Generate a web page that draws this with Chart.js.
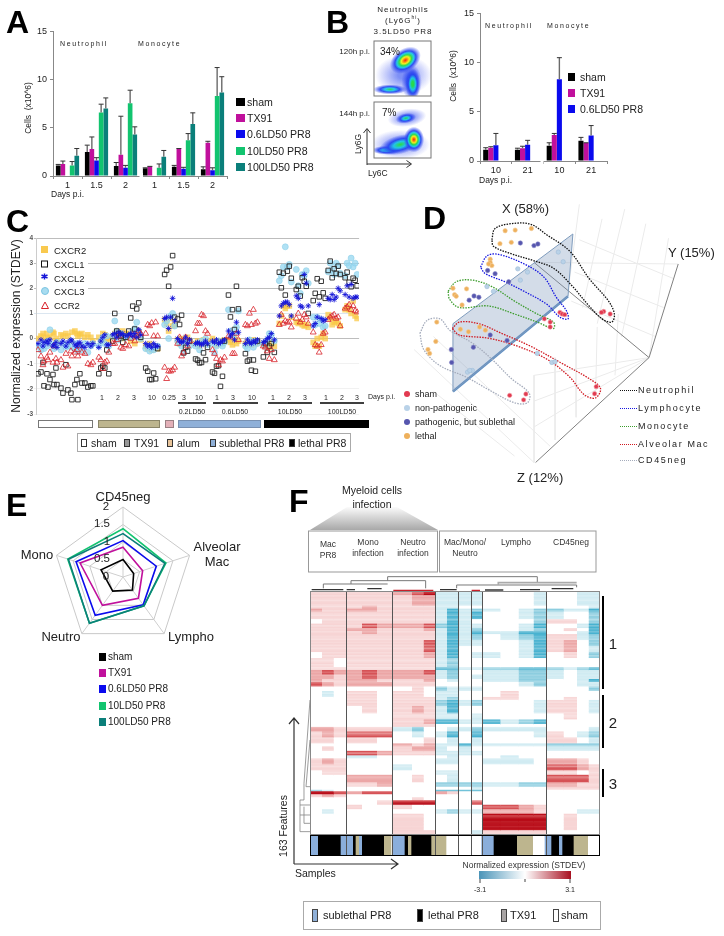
<!DOCTYPE html>
<html>
<head>
<meta charset="utf-8">
<script src="https://cdn.jsdelivr.net/npm/chart.js@4"></script>
<style>
  html, body { margin: 0; padding: 0; background: #fff; }
  #page { position: relative; width: 724px; height: 936px; overflow: hidden; font-family: "Liberation Sans", Arial, sans-serif; }
  #page canvas { position: absolute; }
  #page svg { position: absolute; left: 0; top: 0; }
  .t { position: absolute; white-space: pre; line-height: 1; color: #222; z-index: 2; }
  .box { position: absolute; box-sizing: border-box; }
</style>
</head>
<body>
<div id="page"></div>
<script>
// panel A
const aDays = ["1", "1.5", "2", "1", "1.5", "2"];
const aSeries = ["sham", "TX91", "0.6LD50 PR8", "10LD50 PR8", "100LD50 PR8"];
const aColors = ["#000000", "#c0109c", "#0a0aee", "#12c46f", "#0b7f7a"];
const aSham = [1.1, 2.5, 1.05, 0.8, 0.95, 0.7];
const aTx91 = [1.25, 2.8, 2.2, 1.0, 2.85, 3.45];
const aLow = [0, 1.6, 0.85, 0, 0.75, 0.6];
const aMid = [1.1, 6.6, 7.55, 0.85, 3.7, 8.3];
const aHigh = [2.1, 7.0, 4.3, 2.0, 5.4, 8.65];
const aShamTop = [1.2, 3.2, 1.4, 0.85, 1.1, 0.95];
const aTx91Top = [1.55, 4.05, 6.2, 1.0, 2.85, 3.6];
const aLowTop = [0, 1.9, 1.1, 0, 0.9, 0.85];
const aMidTop = [1.5, 7.45, 8.9, 1.25, 4.4, 11.25];
const aHighTop = [2.85, 8.1, 5.1, 2.65, 6.55, 10.3];

// panel B
const bDays = ["10", "21", "10", "21"];
const bSham = [1.15, 1.15, 1.55, 2.05];
const bTx91 = [1.35, 1.3, 2.65, 1.85];
const bLow = [1.6, 1.65, 8.3, 2.6];
const bShamTop = [1.35, 1.3, 1.85, 2.4];
const bTx91Top = [1.45, 1.5, 2.8, 1.85];
const bLowTop = [2.8, 2.1, 10.5, 3.6];

// flow plots of panel B: density blobs, box units 0-100, y upward
const flowTopX = [52, 66, 28, 68, 55];
const flowTopY = [38, 25, 12, 22, 65];
const flowTopRx = [50, 18, 30, 13, 30];
const flowTopRy = [36, 32, 9, 28, 21];
const flowTopAngle = [0, 0, 0, 0, -35];
const flowTopPeak = [0.2, 0.33, 0.5, 0.62, 1];
const flowBotX = [46, 58, 56, 22, 46, 70];
const flowBotY = [24, 72, 71, 14, 24, 33];
const flowBotRx = [52, 34, 18, 26, 38, 18];
const flowBotRy = [26, 16, 9, 8, 17, 23];
const flowBotAngle = [0, -8, -10, 0, -15, 0];
const flowBotPeak = [0.2, 0.24, 0.5, 0.48, 0.52, 1];

// panel C, one value per sample
const cGenes = ["CXCR2", "CXCL1", "CXCL2", "CXCL3", "CCR2"];
const cSamplePos = [
  38,41,43,44,47,48,50,53,54,56,57,61,63,66,68,71,72,75,77,78,80,82,85,88,91,93,
  99,101,103,105,107,109,
  113,115,117,119,121,123,126,
  129,131,133,135,137,139,141,
  146,148,150,152,154,156,158,
  165,167,169,171,173,175,
  178,180,182,184,186,188,190,
  196,198,200,202,204,206,208,
  213,215,217,219,221,223,225,
  229,231,233,235,237,239,
  246,248,250,252,254,256,258,
  264,266,268,270,272,275,
  280,282,284,286,288,290,292,
  297,299,301,303,305,307,309,
  314,316,318,320,322,324,326,
  329,331,333,335,337,339,341,
  346,348,350,352,354,356,358
];
const cCxcr2 = [
  0,.1,.2,.05,.2,0,.05,.25,.2,0,-.1,.15,.1,.2,.1,-.1,.25,.3,.2,.1,.15,.2,.05,.15,.05,-.1,
  .05,-.1,.2,.15,-.05,0,
  .1,.2,.3,.1,0,.3,.2,
  .2,-.1,.05,-.2,.1,.25,-.05,
  -.3,-.4,-.2,-.45,-.35,-.3,-.4,
  .75,.6,.3,.8,.5,.55,
  -.05,-.2,0,-.1,-.2,.05,-.15,
  -.2,-.1,-.3,-.15,-.05,-.2,-.1,
  0,-.1,-.25,-.15,-.1,-.2,-.05,
  -.05,-.15,-.25,0,-.2,-.1,
  -.2,-.15,-.1,-.25,-.05,-.2,-.15,
  -.2,-.3,-.1,-.35,-.15,-.3,
  .6,.9,1.3,1.2,1.3,1.3,.85,
  .65,.6,.65,.55,.5,.55,.45,
  -.15,-.3,0,-.3,.05,.2,0,
  .95,.8,.55,.65,.7,.6,.5,
  1.15,1.3,1.15,1,1.5,.9,.8
];
const cCxcl1 = [
  -1.4,-1.33,-.95,-1.88,-1.4,-1.93,-1.63,-1.43,-1.83,-1.17,-1.83,-1.97,-2.17,-1.04,-2.04,-2.17,-2.43,-1.83,-1.63,-2.43,-1.4,-1.77,-1.77,-1.93,-1.88,-1.88,
  -1.4,-1.17,-1.1,-1.17,-.45,-1.4,
  -.1,1,.3,.2,.1,-.15,.05,
  .3,.82,1.29,.38,1.18,1.42,.05,
  -1.17,-1.3,-1.63,-1.63,-1.37,-1.6,-.4,
  2.55,2.72,2.08,2.85,3.3,.85,
  .78,.56,.93,-.57,-.35,-.5,-.1,
  -.81,-.86,-.97,-.95,-.57,-.84,-.35,
  -1.33,-1.38,-1.1,-1.08,-1.9,-1.5,-.1,
  1.73,.86,1.15,.36,2.08,1.18,
  -.6,-.9,-.85,-1.26,-.85,-1.3,-.1,
  -.73,-.2,-.55,-.3,-.2,-.55,
  2.64,2.02,2.6,1.73,2.68,2.88,2.4,
  1.95,2.08,1.69,2.42,2.28,2.08,1,
  1.51,1.8,2.38,1.66,2.28,1.82,1.6,
  2.71,3.08,2.42,2.78,2.59,2.88,2.55,
  2.42,2.64,2.24,2.06,2.4,2.32,2.1
];
const cCxcl2 = [
  -.2,-.05,-.3,-.15,-.1,-.2,-.05,-.3,-.25,-.15,-.35,-.2,-.1,-.3,-.15,-.05,-.1,-.25,-.3,-.2,-.15,-.3,-.35,-.2,-.3,-.2,
  -.35,-.1,.05,.15,-.25,-.25,
  .15,.2,.05,.25,.15,.2,.1,
  .15,.2,.1,.2,.05,.35,.15,
  -.2,-.3,-.25,-.35,-.2,-.3,-.3,
  .8,.85,.4,.85,1.6,.7,
  0,-.1,-.15,-.1,.05,-.2,-.05,
  -.2,-.15,-.2,-.25,-.2,-.1,-.2,
  -.1,-.15,-.05,-.2,-.15,-.1,-.05,
  .3,.1,.2,-.05,.65,.25,
  -.2,-.05,-.15,-.2,-.1,-.15,-.05,
  -.15,-.1,0,.05,.2,-.05,
  .9,1.3,1.4,1.45,1.45,1.35,.9,
  1.7,1.6,1.3,1.25,2.55,2.2,1.3,
  .5,.6,.85,1.35,.8,.7,.75,
  1.6,1.55,1.75,1.55,1.65,2,1.9,
  1.75,2.1,1.65,2.15,1.6,1.65,1.65
];
const cCxcl3 = [
  -.3,-.45,-.2,-.4,-.3,-.1,.35,-.25,-.4,-.3,-.15,-.45,-.2,-.35,-.3,-.1,-.35,-.4,-.2,-.5,-.3,-.45,-.2,-.55,-.3,-.2,
  -.3,-.1,.05,-.2,.1,-.3,
  .1,.7,.3,-.05,.2,.1,.05,
  .1,.05,.3,.4,.65,.3,0,
  -.4,-.3,-.5,-.4,-.45,-.35,-.3,
  .55,.7,0,.9,1,.5,
  -.1,-.2,-.3,-.55,-.2,-.1,-.3,
  -.3,-.2,-.45,-.1,-.2,0,-.25,
  -.2,-.55,-.3,-.1,-.2,-.3,-.15,
  1.15,.3,.1,.2,.45,1.1,
  -.3,-.4,-.05,-.2,-.35,-.1,-.2,
  -.2,-.3,-.05,.2,.15,-.1,
  2.3,2.5,2.85,3.65,2.85,2.95,2.25,
  2.75,2.1,1.8,2.55,2.5,2.7,2.2,
  .85,.55,.85,.6,.75,.45,.5,
  2.65,3,2.75,2.55,3,2.9,2.6,
  2.5,3,2.9,3.2,2.85,3,2.55
];
const cCcr2 = [
  -.45,-.7,-1.05,-.9,-.75,-.85,-.55,-.95,-.3,-.8,-.95,-.85,-1.15,-.6,-1.1,-.5,-.7,-.55,-.45,-.7,-.3,-.55,-.6,-1,-1.05,-.95,
  -.75,-.85,-1.2,-.95,-.9,-.55,
  -.2,-.2,-.05,.1,-.35,-.4,-.25,
  -.3,0,.15,-.1,.1,.3,.2,
  .2,.55,.5,.62,.1,.65,.1,
  -1.15,-1.6,-1.3,-1.3,-1.25,-1.15,
  -.2,.05,-.7,-.55,.05,-.3,-.1,
  .3,.6,.6,.95,.9,.3,.2,
  -.45,-.6,-.8,-1.05,-.85,-.9,-.75,
  .1,.05,-.6,-.6,.2,-.05,
  .55,.5,1,.55,1.15,.6,.65,
  -.3,-.35,-.5,-.8,-.45,-.85,
  .55,.95,.6,.7,.65,.65,.45,
  .8,1,.65,.75,.95,.85,.6,
  .25,-.25,-.3,-.55,-.25,.2,.25,
  .75,.85,.9,.95,.8,.85,.5,
  1.2,1.25,1.35,1.15,1.3,1.1,1.05
];
const cTicks = [-3, -2, -1, 0, 1, 2, 3, 4];

const dShamX = [645,665,638,510,517,525,462,480,480,622,617,405,398,355];
const dShamY = [362,370,365,365,370,372,385,395,410,595,617,618,636,622];
const dNonPathX = [505,520,380,410,388,285,305,440,485,495,225,240,232];
const dNonPathY = [178,208,230,240,265,285,300,492,520,518,550,545,545];
const dPathX = [388,430,442,287,310,352,230,245,260,295,347,243,175,176];
const dPathY = [150,158,153,235,245,270,327,314,318,435,452,473,480,520];
const dLethalX = [341,372,422,325,360,295,295,300,290,180,222,185,190,208,203,228,262,280,130,127,103,108];
const dLethalY = [112,110,105,152,148,200,210,220,215,290,292,310,315,342,417,425,410,420,395,455,480,492];
const dOutlineNeutro = [[300,140],[310,105],[360,90],[420,92],[470,125],[540,175],[600,260],[660,330],[678,370],[670,395],[640,385],[600,345],[545,280],[490,228],[430,205],[350,180],[305,160],[300,140]];
const dOutlineLympho = [[265,225],[285,190],[320,185],[400,215],[460,255],[500,320],[530,360],[535,385],[510,380],[470,340],[400,300],[340,270],[280,245],[265,225]];
const dOutlineMono = [[165,300],[190,270],[240,265],[300,285],[370,330],[440,370],[490,395],[490,415],[440,395],[370,370],[290,345],[200,350],[170,325],[165,300]];
const dOutlineMac = [[178,415],[200,395],[260,400],[330,430],[420,470],[520,525],[600,570],[635,600],[620,630],[585,620],[540,565],[470,510],[380,470],[290,445],[200,435],[178,415]];
const dOutlineCd45 = [[78,430],[100,390],[140,385],[170,420],[240,460],[300,510],[360,570],[415,615],[410,645],[370,645],[300,610],[220,565],[140,530],[90,480],[78,430]];
const dPlane = [[180,610],[180,400],[550,122],[535,315],[180,610]];
const dWalls = [
  [[570,30],[535,300]],[[710,45],[625,400]],[[845,135],[785,505]],[[640,75],[580,350]],[[775,90],[700,440]],
  [[430,560],[430,830]],[[560,450],[560,690]],[[690,370],[680,560]],[[625,410],[620,625]],[[495,505],[495,760]],
  [[430,560],[785,505]],[[430,640],[785,505]],[[430,720],[785,505]],[[60,480],[430,830]],[[120,440],[480,780]],
  [[430,210],[875,215]],[[570,140],[860,260]],[[555,240],[830,350]],[[545,330],[805,440]],[[370,810],[120,610]]
];
const dAxes = [[[875,215],[785,505]],[[785,505],[435,830]],[[430,210],[785,505]]];

// panel E
const eAxes = ["CD45neg", "Alveolar Mac", "Lympho", "Neutro", "Mono"];
const eSham = [0.5, 0.32, 0.46, 0.5, 0.66];
const eTx91 = [0.85, 0.59, 0.75, 1.0, 1.29];
const eLow = [1.04, 1.0, 0.98, 1.35, 1.41];
const eMid = [1.38, 1.29, 1.02, 1.63, 1.66];
const eHigh = [1.24, 1.26, 1.02, 1.63, 1.64];

// panel F: widths of the sample blocks, features per row band, levels from -3 to 4
const fColWidths = [35,35,37, 48,45,47, 58,35,35, 35,35, 37, 33, 55,55,45,37, 53,40,35,35];
const fRowSpans = [3,7,2,2,5,3,3,2,2,4,4,4,4,6,2,3,3,2,3,3,4,2, 4,5,4,3,2,3,4,4,2,3,3,2,4,4,3,5,3,2,1,2,2,2,3,3,3,11,3];
const fLevels = [
  [1,1,1, 1,1,1, 2,3,4, -1,-1, -1, -1, 0,0,0,-1, 0,0,-1,-1],
  [1,1,1, 1,1,1, 1,2,2, -1,-1, -1, -1, 0,0,0,-1, 0,0,-1,-1],
  [1,1,1, 1,2,1, 1,1,1, -1,-1, 0, 0, 0,0,0,0, 0,0,0,-1],
  [2,1,1, 2,2,1, 1,1,1, -1,-3, -1, -2, -1,0,-1,-2, -2,-1,-1,-3],
  [1,1,1, 1,1,1, 1,1,1, -1,-3, -1, -3, 0,0,-1,-2, -1,0,0,-2],
  [0,1,1, 1,1,1, 1,1,1, -1,-3, -1, 0, 0,0,0,-2, 1,1,0,-2],
  [1,1,1, 1,3,2, 2,2,3, -2,-3, -1, -1, 0,0,-1,-3, 0,0,-1,-3],
  [1,1,1, 2,2,1, 1,1,2, -1,-3, -1, -2, 0,0,-1,-2, 0,1,0,-3],
  [1,1,1, 1,2,1, 1,1,1, -1,-3, -1, -3, -1,-1,-3,-3, 0,0,-1,-3],
  [1,1,1, 1,1,1, 1,1,1, -1,-3, -1, -2, 0,-1,-2,-3, 1,1,-1,-2],
  [1,1,1, 1,1,1, 1,1,3, -1,-3, -1, -1, 0,0,-1,-3, 1,2,0,-2],
  [1,1,1, 1,1,1, 1,1,3, -1,-3, 0, 0, 0,0,-1,-3, 1,2,0,-1],
  [0,1,1, 1,1,1, 1,1,2, -1,-3, 0, -1, -1,0,-1,-3, 0,1,0,-2],
  [1,1,0, 1,1,1, 1,1,1, -1,-2, 0, 0, 0,0,0,0, 0,0,0,0],
  [1,1,1, 1,1,1, 1,1,1, -3,-3, -1, -1, -2,-2,-3,-3, -2,-1,-2,-3],
  [2,3,2, 2,3,2, 2,2,3, -1,-2, 0, 0, -1,-1,-2,-2, -1,0,-1,-1],
  [2,2,1, 2,3,2, 2,2,2, -1,-2, 0, -1, -1,-1,-2,-2, -1,0,-1,-1],
  [2,1,1, 2,2,1, 1,1,2, 0,-1, 0, 0, -1,-1,-2,-2, 0,0,-1,-3],
  [3,2,1, 2,2,2, 1,1,1, 0,0, 0, 0, 0,0,-1,-2, 0,0,-1,-1],
  [0,0,0, 0,0,0, 0,1,0, -2,-1, -1, -1, 0,0,0,0, 0,0,0,-2],
  [0,-1,0, 1,1,0, 1,1,0, -1,-1, 0, 0, 0,1,0,0, 0,0,0,0],
  [0,0,0, 1,1,0, 1,1,1, -1,-2, 0, 0, 1,1,0,0, 0,1,0,0],
  [0,0,0, 1,1,0, 1,1,1, -2,-3, -1, -2, 0,0,0,-1, 1,1,0,-1],
  [0,0,0, 0,1,0, 1,2,1, -1,-3, 0, 0, 0,0,0,-1, 1,1,0,-1],
  [0,0,0, 0,0,0, 1,1,1, -1,-1, 0, -1, 0,0,0,0, 0,1,0,0],
  [0,0,0, 0,0,0, 1,1,2, -3,-3, -1, -1, -3,-1,-2,-3, 0,0,0,0],
  [0,0,0, 0,0,0, 1,1,1, 0,0, 0, 0, 0,0,0,0, 0,0,0,0],
  [2,2,1, 1,1,1, -1,-2,0, 0,-1, -1, -2, -1,-1,-1,-1, 0,0,0,-1],
  [1,2,1, 3,3,3, 0,-1,0, -1,-3, 0, -3, 0,0,0,-1, 1,0,-1,-2],
  [1,1,0, 1,1,0, 0,0,1, 0,-1, 0, -1, 0,0,0,0, 1,1,0,-1],
  [0,0,0, 0,0,0, 2,1,2, -1,-1, -3, -1, -1,-1,-1,-1, -2,-2,-2,-2],
  [0,1,0, 0,0,0, 1,2,2, -1,0, -1, 0, 0,0,0,0, -1,-1,-1,-1],
  [0,0,0, 3,3,2, 1,1,1, -1,-1, -1, -1, 0,0,0,0, 0,0,0,0],
  [0,0,0, -1,-1,0, 0,0,0, 0,-1, 0, 0, 0,-1,0,0, 0,0,0,0],
  [1,2,1, 0,0,0, 0,0,0, -1,-1, 0, 0, -1,-1,-1,0, 2,2,1,0],
  [1,1,1, 0,0,0, -1,0,0, 0,0, 0, 0, 0,0,0,0, 3,3,2,1],
  [0,1,1, 0,0,0, 0,0,0, -1,-1, 0, 0, 0,0,0,0, 1,1,0,1],
  [0,0,0, 2,2,2, 0,1,0, 0,-1, 0, 0, 0,0,0,0, 3,3,3,1],
  [0,0,0, 1,1,2, 0,0,0, -2,-2, -2, -2, -1,-1,-2,-2, 2,2,1,1],
  [0,0,0, 0,0,0, 0,0,0, 0,0, 0, -1, 0,0,0,0, 1,1,1,1],
  [-2,-1,0, 0,0,0, 0,0,0, -3,-3, -3, -3, 0,0,0,0, 0,0,0,0],
  [4,4,3, 2,3,3, 0,0,0, 2,1, 0, 0, 0,0,0,0, 0,0,0,0],
  [1,2,1, 0,0,0, 0,0,0, 0,0, 0, 0, 0,0,0,0, 0,0,0,0],
  [0,0,0, 0,0,0, 0,1,0, 0,0, 0, 0, 0,0,0,0, 0,0,0,0],
  [0,0,0, 0,0,1, 4,4,4, 0,0, 0, 3, 0,0,0,0, 0,0,0,0],
  [0,0,0, 1,0,0, 1,0,0, 0,0, 0, 0, 3,3,2,1, 0,0,0,0],
  [0,-1,0, 0,0,0, 0,0,0, -1,-2, -1, -1, 2,2,2,1, 0,0,-1,-1],
  [0,0,0, 0,0,0, 1,1,0, 0,0, 0, 0, 4,4,4,4, 0,1,0,0],
  [0,0,0, 0,0,0, 1,1,1, 0,0, 0, -1, 1,1,1,1, 0,0,0,0]
];
// contrast of each of the 163 features against its band, gives the fine stripes
const fRowContrast = [
  1,.85,1, .8,1,.9,.75,.95,1,.85,.7,.95,
  1,.8, 1,.9, .75,1,.85,.7,.95, .9,1,.75, 1,.85,.95,
  .8,1, 1,.85, .9,.75,1,.85, 1,.8,.95,.75, .9,1,.8,1, .75,.95,.85,.7,
  .8,1,.75,.9,.65,.85, 1,.9, 1,.85,.95, .9,1,.8, .85,1, .9,.75,1, .8,1,.7, 1,.8,.9,.7, .95,.75,
  1,.85,.95,.75, .9,1,.75,.85,.7, .8,1,.9,.75, 1,.9,.95, .8,1, 1,.85,.75,
  .9,1,.8,.95, 1,.85,.95,.75, .95,1, .85,1,.75, 1,.95,.8, .8,.95,
  1,.85,.9,.75, 1,.95,.85,.7, .85,1,.8, .9,1,1,.95,.8, .85,1,.75, .8,.95,
  1, 1,.85, .85,.95, .75,.9, 1,1,.85, 1,.85,.75, .85,1,.8,
  .9,1,1,.95,.97,1,.92,1,.95,1,.9, .9,.8,.7
];
const fPosRamp = [[255,255,255],[247,212,212],[236,166,166],[214,82,86],[184,12,24]];
const fNegRamp = [[255,255,255],[208,235,242],[140,205,223],[72,178,208]];
function fLevelColor(level, contrast) {
  const ramp = level >= 0 ? fPosRamp : fNegRamp;
  const v = Math.abs(level) * contrast;
  const i = Math.min(Math.floor(v), ramp.length - 2);
  const f = Math.min(v - i, 1);
  const rgb = ramp[i].map((c, k) => Math.round(c + (ramp[i + 1][k] - c) * f));
  return `rgb(${rgb.join(",")})`;
}
const fDividers = [107, 247, 375, 445, 482, 515, 707];
const fStripWidths = [23,68,12,25,8,10,9,66,22,2,38,10,10,60,45,105,37,70,48,35,20,23,10,34,43,35];
const fStripKinds = ["sub","let","sub","sub","let","tx","sub","let","tx","w","sub","let","tx","let","tx","sham","sub","let","tx","sham","sub","let","sub","let","tx","sham"];
const fStripColors = { sub: "#8aaedb", let: "#000000", tx: "#bdb58e", sham: "#ffffff", w: "#ffffff" };

const page = document.getElementById("page");
Chart.defaults.animation = false;
Chart.defaults.responsive = false;
Chart.defaults.font.family = '"Liberation Sans", Arial, sans-serif';
Chart.defaults.plugins.legend.display = false;
Chart.defaults.plugins.tooltip.enabled = false;

function mount(left, top, width, height) {
  const c = document.createElement("canvas");
  c.width = width;
  c.height = height;
  c.style.left = left + "px";
  c.style.top = top + "px";
  page.appendChild(c);
  return c;
}

function txt(str, x, y, opts = {}) {
  const el = document.createElement("div");
  el.className = "t";
  el.textContent = str;
  el.style.left = x + "px";
  el.style.top = y + "px";
  el.style.fontSize = (opts.size || 10) + "px";
  if (opts.bold) el.style.fontWeight = "bold";
  if (opts.color) el.style.color = opts.color;
  if (opts.ls) el.style.letterSpacing = opts.ls + "px";
  const ax = opts.anchor === "c" ? "-50%" : opts.anchor === "r" ? "-100%" : "0";
  el.style.transform = `translate(${ax},-50%)` + (opts.rot ? ` rotate(${opts.rot}deg)` : "");
  page.appendChild(el);
  return el;
}

function swatch(x, y, w, h, fill, border) {
  const el = document.createElement("div");
  el.className = "box";
  el.style.cssText += `left:${x}px;top:${y}px;width:${w}px;height:${h}px;background:${fill};` + (border ? `border:1px solid ${border};` : "");
  page.appendChild(el);
}

// gray stem with a dark cap above each bar
const errorBars = {
  id: "errorBars",
  afterDatasetsDraw(chart) {
    const { ctx, scales } = chart;
    chart.data.datasets.forEach((ds, i) => {
      chart.getDatasetMeta(i).data.forEach((bar, j) => {
        if (!ds.errTop[j]) return;
        const top = scales.y.getPixelForValue(ds.errTop[j]);
        ctx.strokeStyle = "#6a6a6a";
        ctx.lineWidth = 1.4;
        ctx.beginPath();
        ctx.moveTo(bar.x, bar.y);
        ctx.lineTo(bar.x, top);
        ctx.stroke();
        ctx.strokeStyle = "#333";
        ctx.lineWidth = 1;
        ctx.beginPath();
        ctx.moveTo(bar.x - 2.5, top);
        ctx.lineTo(bar.x + 2.5, top);
        ctx.stroke();
      });
    });
  }
};

function barPanel(canvas, labels, series, padRight, catPct) {
  return new Chart(canvas, {
    type: "bar",
    data: {
      labels,
      datasets: series.map((s) => ({
        data: s.data, errTop: s.top, backgroundColor: s.color,
        barPercentage: 1, categoryPercentage: catPct
      }))
    },
    options: {
      layout: { padding: { top: 8, right: padRight, left: 0, bottom: 0 } },
      scales: {
        x: {
          grid: { drawOnChartArea: false, color: "#888", tickLength: 3 },
          border: { color: "#888" },
          ticks: { color: "#222", font: { size: 9 }, padding: 1, maxRotation: 0, autoSkip: false },
          afterFit: (s) => { s.height = 16; }
        },
        y: {
          min: 0, max: 15,
          grid: { drawOnChartArea: false, color: "#888", tickLength: 3 },
          border: { color: "#888" },
          ticks: { stepSize: 5, color: "#222", font: { size: 9 }, padding: 3 },
          afterFit: (s) => { s.width = 30; }
        }
      }
    },
    plugins: [errorBars]
  });
}

// A
barPanel(mount(23, 23, 208, 169), aDays, [
  { data: aSham, top: aShamTop, color: aColors[0] },
  { data: aTx91, top: aTx91Top, color: aColors[1] },
  { data: aLow, top: aLowTop, color: aColors[2] },
  { data: aMid, top: aMidTop, color: aColors[3] },
  { data: aHigh, top: aHighTop, color: aColors[4] }
], 4, 0.8);

// B, two empty series keep the groups left of the tick centres as in the reference
barPanel(mount(450, 5, 161, 172), bDays, [
  { data: bSham, top: bShamTop, color: aColors[0] },
  { data: bTx91, top: bTx91Top, color: aColors[1] },
  { data: bLow, top: bLowTop, color: aColors[2] },
  { data: [], top: [], color: aColors[3] },
  { data: [], top: [], color: aColors[4] }
], 4, 0.8);

// flow cytometry density plots
const heatStops = (peak) => {
  const ramp = [[1, "255,20,10"], [0.82, "255,150,0"], [0.68, "250,240,20"], [0.5, "40,220,70"], [0.32, "30,200,230"], [0.15, "40,70,240"]];
  return ramp.filter((r) => r[0] <= peak).map((r) => [1 - r[0] / peak, r[1]]);
};
const densityBlobs = {
  id: "densityBlobs",
  beforeDatasetsDraw(chart) {
    const { ctx, scales } = chart;
    const b = chart.config.options.blobs;
    ctx.save();
    ctx.beginPath();
    ctx.rect(chart.chartArea.left, chart.chartArea.top, chart.chartArea.width, chart.chartArea.height);
    ctx.clip();
    b.x.forEach((x, i) => {
      const px = scales.x.getPixelForValue(x);
      const py = scales.y.getPixelForValue(b.y[i]);
      ctx.save();
      ctx.translate(px, py);
      ctx.rotate((b.angle[i] * Math.PI) / 180);
      ctx.scale(b.rx[i] * chart.chartArea.width / 100, b.ry[i] * chart.chartArea.height / 100);
      const g = ctx.createRadialGradient(0, 0, 0, 0, 0, 1);
      heatStops(b.peak[i]).forEach((s) => g.addColorStop(s[0] * 0.8, `rgba(${s[1]},${b.peak[i] < 0.3 ? 0.6 : 0.95})`));
      g.addColorStop(1, "rgba(60,80,240,0)");
      ctx.fillStyle = g;
      ctx.beginPath();
      ctx.arc(0, 0, 1, 0, Math.PI * 2);
      ctx.fill();
      ctx.restore();
    });
    ctx.restore();
    ctx.strokeStyle = "#777";
    ctx.lineWidth = 1;
    ctx.strokeRect(chart.chartArea.left, chart.chartArea.top, chart.chartArea.width, chart.chartArea.height);
  }
};
function flowPanel(canvas, x, y, rx, ry, angle, peak) {
  return new Chart(canvas, {
    type: "scatter",
    data: { datasets: [{ data: x.map((v, i) => ({ x: v, y: y[i] })), pointRadius: 0 }] },
    options: {
      blobs: { x, y, rx, ry, angle, peak },
      layout: { padding: 1 },
      scales: { x: { display: false, min: 0, max: 100 }, y: { display: false, min: 0, max: 100 } }
    },
    plugins: [densityBlobs]
  });
}
flowPanel(mount(373, 40, 59, 57), flowTopX, flowTopY, flowTopRx, flowTopRy, flowTopAngle, flowTopPeak);
flowPanel(mount(373, 101, 59, 58), flowBotX, flowBotY, flowBotRx, flowBotRy, flowBotAngle, flowBotPeak);

// C
const toPoints = (vals) => cSamplePos.map((x, i) => ({ x, y: vals[i] }));
new Chart(mount(6, 230, 358, 190), {
  type: "scatter",
  data: {
    datasets: [
      { label: "CXCR2", data: toPoints(cCxcr2), order: 5, pointStyle: "rect", pointRadius: 4, pointBorderWidth: 0, backgroundColor: "rgba(250,200,70,0.75)" },
      { label: "CXCL3", data: toPoints(cCxcl3), order: 4, pointStyle: "circle", pointRadius: 3, pointBorderWidth: 0.6, backgroundColor: "rgba(150,215,240,0.75)", borderColor: "#8fd0ea" },
      { label: "CXCL1", data: toPoints(cCxcl1), order: 3, pointStyle: "rect", pointRadius: 3.2, pointBorderWidth: 0.9, backgroundColor: "rgba(255,255,255,0)", borderColor: "#222" },
      { label: "CCR2", data: toPoints(cCcr2), order: 2, pointStyle: "triangle", pointRadius: 3.4, pointBorderWidth: 0.8, backgroundColor: "rgba(255,255,255,0)", borderColor: "#d8222a" },
      { label: "CXCL2", data: toPoints(cCxcl2), order: 1, pointStyle: "star", pointRadius: 2.8, pointBorderWidth: 0.9, borderColor: "#1414d8" }
    ]
  },
  options: {
    layout: { padding: { top: 8, right: 4, bottom: 6, left: 0 } },
    scales: {
      x: { type: "linear", min: 36, max: 360, display: false },
      y: {
        min: -3, max: 4,
        afterBuildTicks: (s) => { s.ticks = cTicks.map((value) => ({ value })); },
        grid: {
          tickLength: 2,
          lineWidth: 1,
          color: (c) => {
            const v = c.tick.value;
            if (v === 1) return "#dbe6f0";
            if (v < 0) return "#f1f1f1";
            return "#bdbdbd";
          }
        },
        border: { color: "#ccc" },
        ticks: { color: "#555", font: { size: 6.5, weight: "bold" }, padding: 1 },
        afterFit: (s) => { s.width = 30; }
      }
    }
  }
});

// D
const dSeg = (seg, color, width) => ({
  data: seg.map((p) => ({ x: p[0], y: p[1] })), showLine: true, pointRadius: 0,
  borderColor: color, borderWidth: width, tension: 0
});
const dOutline = (seg, color) => ({
  data: seg.map((p) => ({ x: p[0], y: p[1] })), showLine: true, pointRadius: 0,
  borderColor: color, borderWidth: 1.3, borderDash: [1.5, 1.2], tension: 0.35
});
const dDots = (xs, ys, color, edge) => ({
  data: xs.map((x, i) => ({ x, y: ys[i] })), pointRadius: 2.2, pointBorderWidth: 0.6,
  backgroundColor: color, borderColor: edge
});
new Chart(mount(390, 190, 334, 290), {
  type: "scatter",
  data: {
    datasets: [
      dDots(dShamX, dShamY, "#e23a50", "#f0a0a8"),
      dDots(dNonPathX, dNonPathY, "#b9d2e8", "#a0bcd6"),
      dDots(dPathX, dPathY, "#5656ae", "#8888c8"),
      dDots(dLethalX, dLethalY, "#eeb05c", "#f3cd98"),
      dOutline(dOutlineNeutro, "#111"),
      dOutline(dOutlineLympho, "#1616e0"),
      dOutline(dOutlineMono, "#3c9c2c"),
      dOutline(dOutlineMac, "#d01820"),
      dOutline(dOutlineCd45, "#a5acbc"),
      { ...dSeg(dPlane, "#7f9cbd", 1), fill: "shape", backgroundColor: "rgba(120,150,185,0.33)" },
      dSeg([dPlane[0], dPlane[3]], "#5f8fc4", 2.4),
      ...dAxes.map((s) => dSeg(s, "#808080", 1)),
      ...dWalls.map((s) => dSeg(s, "#ebebeb", 1))
    ]
  },
  options: {
    layout: { padding: 0 },
    scales: {
      x: { display: false, min: 0, max: 1002 },
      y: { display: false, min: 0, max: 870, reverse: true }
    }
  }
});

// E
new Chart(mount(51, 505, 144, 144), {
  type: "radar",
  data: {
    labels: eAxes,
    datasets: [
      { data: eSham, borderColor: aColors[0] },
      { data: eHigh, borderColor: aColors[4] },
      { data: eMid, borderColor: aColors[3] },
      { data: eLow, borderColor: aColors[2] },
      { data: eTx91, borderColor: aColors[1] }
    ].map((d) => ({ ...d, fill: false, pointRadius: 0, borderWidth: 1.6, tension: 0 }))
  },
  options: {
    layout: { padding: 2 },
    scales: {
      r: {
        min: 0, max: 2,
        ticks: { display: false, stepSize: 0.5 },
        grid: { color: "#c9c9c9" },
        angleLines: { color: "#cfcfcf" },
        pointLabels: { display: false }
      }
    }
  }
});

// F heat map, one stacked bar per feature
const fRowLevels = [];
fRowSpans.forEach((n, i) => { for (let k = 0; k < n; k++) fRowLevels.push(fLevels[i]); });
const drawDividers = (frameColor) => ({
  id: "fDividers",
  afterDatasetsDraw(chart) {
    const { ctx, scales, chartArea } = chart;
    ctx.strokeStyle = "#555";
    ctx.lineWidth = 1;
    fDividers.forEach((v) => {
      const x = Math.round(scales.x.getPixelForValue(v)) + 0.5;
      ctx.beginPath();
      ctx.moveTo(x, chartArea.top);
      ctx.lineTo(x, chartArea.bottom);
      ctx.stroke();
    });
    ctx.strokeStyle = frameColor;
    ctx.strokeRect(chartArea.left + 0.5, chartArea.top + 0.5, chartArea.width - 1, chartArea.height - 1);
  }
});
new Chart(mount(310, 591, 290, 244), {
  type: "bar",
  data: {
    labels: fRowLevels.map((_, i) => i + 1),
    datasets: fColWidths.map((w, c) => ({
      data: fRowLevels.map(() => w),
      backgroundColor: fRowLevels.map((r, i) => fLevelColor(r[c], fRowContrast[i] || 1)),
      borderWidth: 0, barPercentage: 1, categoryPercentage: 1
    }))
  },
  options: {
    indexAxis: "y",
    layout: { padding: 0 },
    scales: {
      x: { display: false, stacked: true, min: 0, max: 870 },
      y: { display: false, stacked: true }
    }
  },
  plugins: [drawDividers("#888")]
});
new Chart(mount(310, 835, 290, 21), {
  type: "bar",
  data: {
    labels: ["samples"],
    datasets: fStripWidths.map((w, i) => ({
      data: [w], backgroundColor: fStripColors[fStripKinds[i]],
      borderWidth: 0, barPercentage: 1, categoryPercentage: 1
    }))
  },
  options: {
    indexAxis: "y",
    layout: { padding: 0 },
    scales: {
      x: { display: false, stacked: true, min: 0, max: 870 },
      y: { display: false, stacked: true }
    }
  },
  plugins: [drawDividers("#000")]
});

// ---- text and annotation ----
[["A", 6, 22], ["B", 326, 22], ["C", 6, 221], ["D", 423, 218], ["E", 6, 505], ["F", 289, 501]].forEach((l) =>
  txt(l[0], l[1], l[2], { size: 32, bold: true, color: "#000" })
);

txt("Neutrophil", 60, 43, { size: 7, ls: 1.6 });
txt("Monocyte", 138, 43, { size: 7, ls: 1.6 });
txt("Cells  (x10^6)", 28, 108, { size: 8.5, anchor: "c", rot: -90 });
txt("Days p.i.", 51, 194, { size: 8.5 });
aSeries.forEach((s, i) => {
  const y = 102 + i * 16.2;
  swatch(236, y - 4, 9, 8, aColors[i]);
  txt(s, 247, y, { size: 10.6 });
});

txt("Neutrophils", 403, 10, { size: 8, anchor: "c", ls: 1 });
const ly6 = txt("(Ly6G", 403, 21, { size: 8, anchor: "c", ls: 1 });
ly6.innerHTML = '(Ly6G<sup style="font-size:5px;line-height:0">hi</sup>)';
txt("3.5LD50 PR8", 403, 32, { size: 8, anchor: "c", ls: 1 });
txt("120h p.i.", 370, 52, { size: 8, anchor: "r" });
txt("144h p.i.", 370, 114, { size: 8, anchor: "r" });
txt("34%", 380, 52, { size: 10 });
txt("7%", 382, 113, { size: 10 });
txt("Ly6G", 358, 144, { size: 8.5, anchor: "c", rot: -90 });
txt("Ly6C", 368, 173, { size: 8.5 });
txt("Neutrophil", 485, 25, { size: 7, ls: 1.6 });
txt("Monocyte", 547, 25, { size: 7, ls: 1.6 });
txt("Cells  (x10^6)", 453, 76, { size: 8.5, anchor: "c", rot: -90 });
txt("Days p.i.", 479, 180, { size: 8.5 });
aSeries.slice(0, 3).forEach((s, i) => {
  const y = 77 + i * 16;
  swatch(568, y - 4, 7, 8, aColors[i]);
  txt(s, 580, y, { size: 10.5 });
});

txt("Normalized expression (STDEV)", 16, 326, { size: 12, anchor: "c", rot: -90 });
[["1", 102], ["2", 118], ["3", 134], ["10", 152], ["0.25", 169], ["3", 184], ["10", 199], ["1", 217], ["3", 233], ["10", 252], ["1", 273], ["2", 289], ["3", 305], ["1", 326], ["2", 342], ["3", 357]].forEach((d) =>
  txt(d[0], d[1], 397, { size: 7, anchor: "c" })
);
txt("Days p.i.", 368, 396, { size: 7 });
[["0.2LD50", 192], ["0.6LD50", 235], ["10LD50", 290], ["100LD50", 342]].forEach((d) =>
  txt(d[0], d[1], 411, { size: 7, anchor: "c" })
);
[[38, 93, "#fff", "#777"], [98, 160, "#bdb58e", "#8a8568"], [165, 174, "#e3b0b8", "#9a8084"], [178, 261, "#8fb0d8", "#7890b0"], [264, 369, "#000", "#000"]].forEach((b) =>
  swatch(b[0], 420, b[1] - b[0], 8, b[2], b[3])
);
swatch(77, 433, 274, 19, "#fff", "#aaa");
[["sham", 91, 81, "#fff"], ["TX91", 134, 124, "#999"], ["alum", 177, 167, "#e8c49a"], ["sublethal PR8", 219, 210, "#8fb0d8"], ["lethal PR8", 298, 289, "#000"]].forEach((d) => {
  swatch(d[2], 439, 6, 8, d[3], "#333");
  txt(d[0], d[1], 443, { size: 10.5 });
});
cGenes.forEach((g, i) => txt(g, 54, [251, 265, 279, 292, 306][i], { size: 9.5 }));

txt("X (58%)", 502, 208, { size: 13 });
txt("Y (15%)", 668, 252, { size: 13 });
txt("Z (12%)", 517, 477, { size: 13 });
[["sham", 394, "#e23a50"], ["non-pathogenic", 408, "#b9d2e8"], ["pathogenic, but sublethal", 422, "#5656ae"], ["lethal", 436, "#eeb05c"]].forEach((d) => {
  const dot = document.createElement("div");
  dot.className = "box";
  dot.style.cssText += `left:404px;top:${d[1] - 3}px;width:6px;height:6px;border-radius:50%;background:${d[2]};`;
  page.appendChild(dot);
  txt(d[0], 415, d[1], { size: 9 });
});
[["Neutrophil", 390, "#111"], ["Lymphocyte", 408, "#1616e0"], ["Monocyte", 426, "#3c9c2c"], ["Alveolar Mac", 444, "#d01820"], ["CD45neg", 460, "#a5acbc"]].forEach((d) => {
  const dash = document.createElement("div");
  dash.className = "box";
  dash.style.cssText += `left:620px;top:${d[1]}px;width:17px;border-top:1.4px dotted ${d[2]};`;
  page.appendChild(dash);
  txt(d[0], 638, d[1], { size: 9, ls: 1.6 });
});

txt("CD45neg", 123, 496, { size: 13, anchor: "c" });
txt("2", 106, 507, { size: 11.5, anchor: "c" });
txt("1.5", 102, 524, { size: 11.5, anchor: "c" });
txt("1", 107, 542, { size: 11.5, anchor: "c" });
txt("0.5", 102, 559, { size: 11.5, anchor: "c" });
txt("0", 106, 577, { size: 11.5, anchor: "c" });
txt("Alveolar", 217, 546, { size: 13, anchor: "c" });
txt("Mac", 217, 561, { size: 13, anchor: "c" });
txt("Lympho", 191, 636, { size: 13, anchor: "c" });
txt("Neutro", 61, 636, { size: 13, anchor: "c" });
txt("Mono", 37, 554, { size: 13, anchor: "c" });
aSeries.forEach((s, i) => {
  const y = 657 + i * 16.2;
  swatch(99, y - 4, 7, 8, aColors[i]);
  txt(s, 108, y, { size: 10 });
});

txt("Myeloid cells", 372, 490, { size: 10.5, anchor: "c" });
txt("infection", 372, 504, { size: 10.5, anchor: "c" });
[["Mac", 328, 544], ["PR8", 328, 555], ["Mono", 368, 542], ["infection", 368, 553], ["Neutro", 413, 542], ["infection", 413, 553], ["Mac/Mono/", 465, 542], ["Neutro", 465, 553], ["Lympho", 516, 542], ["CD45neg", 571, 542]].forEach((d) =>
  txt(d[0], d[1], d[2], { size: 8.5, anchor: "c", color: "#333" })
);
txt("1", 613, 643, { size: 15, anchor: "c" });
txt("2", 613, 722, { size: 15, anchor: "c" });
txt("3", 613, 783, { size: 15, anchor: "c" });
txt("163 Features", 283, 826, { size: 10.5, anchor: "c", rot: -90 });
txt("Samples", 295, 873, { size: 10.5 });
txt("Normalized expression (STDEV)", 524, 865, { size: 8.5, anchor: "c", color: "#333" });
txt("-3.1", 480, 889, { size: 7, anchor: "c" });
txt("3.1", 570, 889, { size: 7, anchor: "c" });
swatch(303, 901, 298, 29, "#fff", "#aaa");
[["sublethal PR8", 323, 312, "#8fb0d8"], ["lethal PR8", 428, 417, "#000"], ["TX91", 510, 501, "#a8a4a4"], ["sham", 561, 553, "#fff"]].forEach((d) => {
  swatch(d[2], 909, 6, 13, d[3], "#444");
  txt(d[0], d[1], 915, { size: 11 });
});

const svgNS = "http://www.w3.org/2000/svg";
const overlay = document.createElementNS(svgNS, "svg");
overlay.setAttribute("width", 724);
overlay.setAttribute("height", 936);
overlay.innerHTML = `
  <defs>
    <linearGradient id="coneFill" x1="0" y1="0" x2="0" y2="1"><stop offset="0" stop-color="#fbfbfb"/><stop offset="1" stop-color="#a8a8a8"/></linearGradient>
    <linearGradient id="barFill"><stop offset="0" stop-color="#4a94b8"/><stop offset="0.5" stop-color="#ffffff"/><stop offset="1" stop-color="#a81020"/></linearGradient>
  </defs>
  <rect x="139.5" y="173" width="3.5" height="7" fill="#fff"/>
  <rect x="540.5" y="158" width="3" height="7" fill="#fff"/>
  <g fill="none" stroke="#333" stroke-width="1">
    <path d="M367 165V129M363.5 133L367 128.500L370.500 133"/>
    <path d="M367 164H411M406.500 160.500L411.500 164L406.500 167.500"/>
  </g>
  <rect x="37" y="240" width="51" height="72" fill="#fff"/>
  <rect x="41" y="246" width="7" height="7" fill="#f9c94e"/>
  <rect x="41.500" y="261" width="6" height="6" fill="none" stroke="#111"/>
  <path d="M44.500 273.500v6M41.500 275l6 3M47.500 275l-6 3" stroke="#1414d8" stroke-width="1.500"/>
  <circle cx="45" cy="291" r="3.500" fill="#a8dcf0" stroke="#7cc4e2"/>
  <path d="M45 302l3.500 6.500h-7z" fill="none" stroke="#d8222a"/>
  <g stroke="#000" stroke-width="1.600">
    <path d="M178 403H206M213 403H258M268 403H312M320 403H364"/>
  </g>
  <path d="M310 530L347 507H397L438 530Z" fill="url(#coneFill)"/>
  <g fill="none" stroke="#999" stroke-width="1">
    <rect x="308.500" y="531" width="129" height="41"/>
    <rect x="439.500" y="531" width="156.500" height="41"/>
  </g>
  <g transform="translate(280,480) scale(0.3333)" fill="none" stroke="#777" stroke-width="3">
    <path d="M323 302V290H772V308"/>
    <path d="M213 312V302H437V325"/>
    <path d="M130 325V312H323"/>
    <path d="M530 325V315H890V322"/>
    <path d="M655 315V308H890" stroke="#aaa" stroke-width="5"/>
    <path d="M95 329H190M200 329H225M262 326H305M480 329H530M615 330H670M720 329H780M815 326H880" stroke="#333" stroke-width="4"/>
    <path d="M340 331H460M575 331H600" stroke="#c81e28" stroke-width="4"/>
  </g>
  <g transform="translate(280,700) scale(0.3333)" fill="none" stroke="#888" stroke-width="2.500">
    <path d="M90 0L72 250M90 120L78 260M72 250V300H60V345H90M60 315H90M60 345V395H90M72 320V370H90M78 260H90"/>
  </g>
  <g stroke="#000" stroke-width="2">
    <path d="M603 596V689M603 695V748M603 769V797"/>
  </g>
  <g fill="none" stroke="#333" stroke-width="1.200">
    <path d="M294 864V719M289 724L294 718L299 724"/>
    <path d="M294 864H397M391 859L398 864L391 869"/>
  </g>
  <rect x="479" y="871" width="92" height="8" fill="url(#barFill)"/>
  <path d="M480 879v4M525 879v3M570 879v4" stroke="#444"/>
`;
page.appendChild(overlay);
</script>
</body>
</html>
